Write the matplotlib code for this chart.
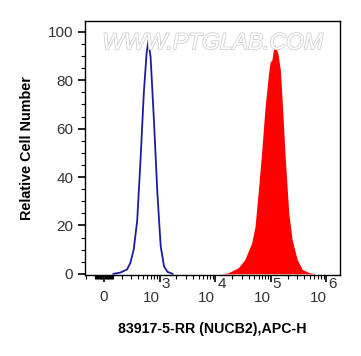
import numpy as np
import matplotlib.pyplot as plt
import matplotlib.patheffects as pe
from matplotlib.ticker import FixedLocator, NullFormatter

plt.rcParams['font.family'] = ['Liberation Sans', 'DejaVu Sans']

# isotype control (blue outline)
ctrl_x = [106, 183, 260, 297, 341, 394, 452, 519, 581, 624, 686, 787, 908, 1043, 1197, 1380, 1703]
ctrl_y = [0, 0.5, 1.8, 4.5, 10, 22, 47, 75, 91, 96.3, 89.7, 63.6, 33.5, 11.4, 3.1, 0.8, 0]

# 83917-5-RR stained (red filled)
stain_x = [12900, 17000, 25900, 34100, 45200, 51900, 59700, 68600, 78700, 90800, 97100,
           104000, 112000, 120000, 134000, 148000, 158000, 182000, 210000, 241000,
           297000, 367000, 484000, 638000]
stain_y = [0, 0.4, 2.5, 5.9, 12.8, 19.6, 34.7, 51, 69, 82.8, 87.6,
           88.3, 93.2, 94.5, 91, 84.2, 73.2, 47.1, 25.1, 14.1,
           5.9, 1.8, 0.5, 0]

major_ticks = [0, 1e3, 1e4, 1e5, 1e6]
decade_exp = ['3', '4', '5', '6']

fig = plt.figure(figsize=(3.61, 3.56), dpi=100)
ax = fig.add_axes([0.2355, 0.2275, 0.7063, 0.7135])

ax.set_xscale('symlog', linthresh=300, linscale=0.43)
ax.fill_between(stain_x, stain_y, 0, color='#ff0000', lw=0)
ax.plot(ctrl_x, ctrl_y, color='#1c1ca0', lw=1.3)

ax.set_xlim(-215, 1.75e6)
ax.set_ylim(-0.5, 104.5)

# minor ticks: linear region plus each decade
minor = [s * m * d for s in (-1, 1) for d in (10, 100) for m in range(1, 10)]
minor += [m * d for d in (1e3, 1e4, 1e5) for m in range(2, 10)]
minor = [t for t in minor if -215 <= t <= 1.75e6]
ax.xaxis.set_major_locator(FixedLocator(major_ticks))
ax.xaxis.set_major_formatter(NullFormatter())
ax.xaxis.set_minor_locator(FixedLocator(minor))
ax.xaxis.set_minor_formatter(NullFormatter())

ax.set_yticks([0, 20, 40, 60, 80, 100])
ax.set_yticks(np.arange(0, 101, 5), minor=True)

ax.tick_params(axis='both', which='major', direction='out', length=5, width=1.2,
               labelsize=11, colors='black', labelcolor='#333333')
ax.tick_params(axis='both', which='minor', direction='out', length=3, width=0.8)

# x tick labels: 0 and 10 with a large raised exponent
tr = ax.get_xaxis_transform()
ax.text(0, -0.088, '0', transform=tr, ha='center', va='center', fontsize=11, color='#333333')
for t, e in zip(major_ticks[1:], decade_exp):
    ax.text(t, -0.092, '10', transform=tr, ha='right', va='center', fontsize=11, color='#333333')
    ax.text(t * 1.08, -0.036, e, transform=tr, ha='left', va='center', fontsize=11, color='#333333')

for s in ax.spines.values():
    s.set_linewidth(1.0)

ax.set_xlabel('83917-5-RR (NUCB2),APC-H', fontsize=10.2, fontweight='bold', labelpad=25)
ax.set_ylabel('Relative Cell Number', fontsize=10.4, fontweight='bold', labelpad=10)

ax.text(0.5, 0.915, 'WWW.PTGLAB.COM', transform=ax.transAxes, ha='center', va='center',
        fontsize=16.5, style='italic', color='white',
        path_effects=[pe.withStroke(linewidth=1.2, foreground='#d0d0d0')])

fig.savefig('out.png', dpi=100)
